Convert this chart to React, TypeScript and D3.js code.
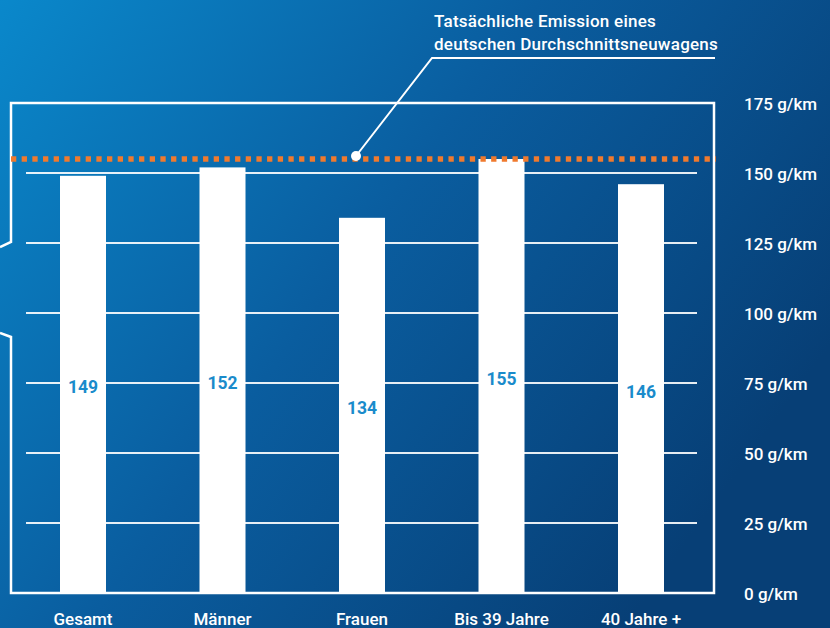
import React from "react";
import * as d3 from "d3";

const categories = ["Gesamt", "Männer", "Frauen", "Bis 39 Jahre", "40 Jahre +"];
const values = [149, 152, 134, 155, 146];
const tickValues = [0, 25, 50, 75, 100, 125, 150, 175];
const referenceValue = 155;
const annotationLines = ["Tatsächliche Emission eines", "deutschen Durchschnittsneuwagens"];

const W = 830;
const H = 628;

export default function App() {
  const x = d3.scalePoint<string>().domain(categories).range([83, 641]);
  const y = d3.scaleLinear().domain([0, 175]).range([593, 103]);
  const barW = 46;
  const frameL = 11;
  const frameR = 714;
  const font = "Roboto, 'Noto Sans', sans-serif";
  const refY = y(referenceValue);

  const framePath = [
    `M0,247 L${frameL},242`,
    `L${frameL},${y(175)}`,
    `L${frameR},${y(175)}`,
    `L${frameR},${y(0)}`,
    `L${frameL},${y(0)}`,
    `L${frameL},337 L0,333`,
  ].join(" ");

  return (
    <svg
      width={W}
      height={H}
      style={{ position: "absolute", left: 0, top: 0, display: "block" }}
    >
      <defs>
        <linearGradient id="bg" x1="0" y1="0" x2="1" y2="0.55">
          <stop offset="0" stopColor="#0a88cb" />
          <stop offset="0.5" stopColor="#0a5d9f" />
          <stop offset="1" stopColor="#073f76" />
        </linearGradient>
      </defs>
      <rect x={0} y={0} width={W} height={H} fill="url(#bg)" />

      {/* gridlines */}
      {tickValues
        .filter((t) => t > 0 && t < 175)
        .map((t) => (
          <line
            key={"g" + t}
            x1={26}
            x2={697}
            y1={y(t)}
            y2={y(t)}
            stroke="#ffffff"
            strokeOpacity={0.9}
            strokeWidth={2}
          />
        ))}

      {/* frame */}
      <path d={framePath} fill="none" stroke="#ffffff" strokeWidth={2.5} />

      {/* bars */}
      {categories.map((c, i) => (
        <rect
          key={c}
          x={(x(c) as number) - barW / 2}
          y={y(values[i])}
          width={barW}
          height={y(0) - y(values[i])}
          fill="#ffffff"
        />
      ))}

      {/* value labels */}
      {categories.map((c, i) => (
        <text
          key={"v" + c}
          x={x(c) as number}
          y={(y(values[i]) + y(0)) / 2 + 9}
          textAnchor="middle"
          fontFamily={font}
          fontWeight={700}
          fontSize={17.5}
          fill="#1a8bcb"
        >
          {values[i]}
        </text>
      ))}

      {/* reference dotted line */}
      <line
        x1={frameL}
        x2={frameR + 2}
        y1={refY}
        y2={refY}
        stroke="#f07a2e"
        strokeWidth={5.5}
        strokeDasharray="5.3 5.37"
      />

      {/* annotation */}
      <polyline
        points={`356,${refY - 3} 432,58 715,58`}
        fill="none"
        stroke="#ffffff"
        strokeWidth={2}
      />
      <circle cx={356} cy={refY - 3} r={5} fill="#ffffff" />
      {annotationLines.map((l, i) => (
        <text
          key={l}
          x={434}
          y={27 + i * 23}
          fontFamily={font}
          fontWeight={500}
          fontSize={17}
          letterSpacing={0.25}
          fill="#ffffff"
        >
          {l}
        </text>
      ))}

      {/* y tick labels */}
      {tickValues.map((t) => (
        <text
          key={"t" + t}
          x={744}
          y={y(t) + 7}
          fontFamily={font}
          fontWeight={500}
          fontSize={17}
          fill="#ffffff"
        >
          {`${t} g/km`}
        </text>
      ))}

      {/* category labels */}
      {categories.map((c) => (
        <text
          key={"c" + c}
          x={x(c) as number}
          y={625}
          textAnchor="middle"
          fontFamily={font}
          fontWeight={500}
          fontSize={17}
          fill="#ffffff"
        >
          {c}
        </text>
      ))}
    </svg>
  );
}
